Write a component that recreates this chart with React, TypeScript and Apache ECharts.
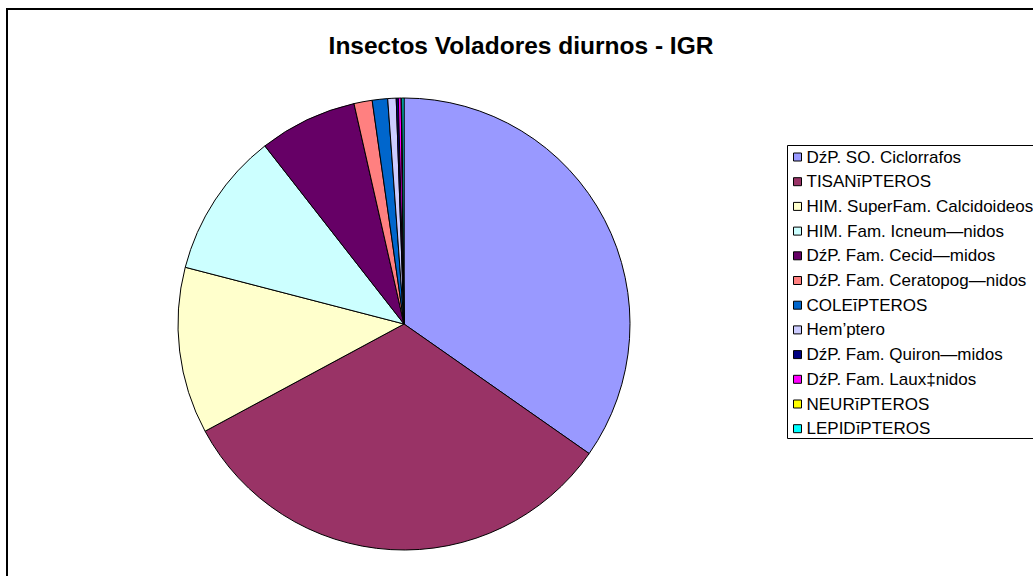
import React, { useEffect, useRef } from "react";
import * as echarts from "echarts";

const categories = [
  "DźP. SO. Ciclorrafos",
  "TISANīPTEROS",
  "HIM. SuperFam. Calcidoideos",
  "HIM. Fam. Icneum—nidos",
  "DźP. Fam. Cecid—midos",
  "DźP. Fam. Ceratopog—nidos",
  "COLEīPTEROS",
  "Hem’ptero",
  "DźP. Fam. Quiron—midos",
  "DźP. Fam. Laux‡nidos",
  "NEURīPTEROS",
  "LEPIDīPTEROS",
];
const values = [34.7, 32.4, 11.9, 10.4, 7.0, 1.3, 1.1, 0.6, 0.15, 0.2, 0.05, 0.15];
const colors = [
  "#9999FF", "#993366", "#FFFFCC", "#CCFFFF", "#660066", "#FF8080",
  "#0066CC", "#CCCCFF", "#000080", "#FF00FF", "#FFFF00", "#00FFFF",
];
const title = "Insectos Voladores diurnos - IGR";

export default function App() {
  const ref = useRef<HTMLDivElement>(null);
  useEffect(() => {
    document.body.style.margin = "0";
    const chart = echarts.init(ref.current!, null, { renderer: "svg" });
    chart.setOption({
      animation: false,
      backgroundColor: "#ffffff",
      color: colors,
      title: {
        text: title,
        left: 516,
        textAlign: "center",
        top: 28,
        textStyle: { fontFamily: "Liberation Sans, Arial", fontSize: 24.5, fontWeight: "bold", color: "#000" },
      },
      graphic: [
        {
          type: "rect",
          shape: { x: 7, y: 9, width: 1100, height: 700 },
          style: { fill: "none", stroke: "#000", lineWidth: 2 },
          z: 0,
        },
        {
          type: "rect",
          shape: { x: 787.5, y: 145.5, width: 300, height: 293 },
          style: { fill: "#fff", stroke: "#000", lineWidth: 1 },
          z: 0,
        },
      ],
      legend: {
        orient: "vertical",
        left: 793,
        top: 148.5,
        padding: 0,
        itemGap: 7.7,
        itemWidth: 8,
        itemHeight: 8,
        icon: "rect",
        itemStyle: { borderColor: "#000", borderWidth: 1 },
        textStyle: { fontFamily: "Liberation Sans, Arial", fontSize: 17, lineHeight: 17, color: "#000" },
        data: categories,
        selectedMode: false,
        z: 5,
      },
      series: [
        {
          type: "pie",
          center: [404, 324],
          radius: 226,
          startAngle: 90,
          clockwise: true,
          label: { show: false },
          labelLine: { show: false },
          emphasis: { disabled: true },
          itemStyle: { borderColor: "#000", borderWidth: 1 },
          data: categories.map((c, i) => ({ name: c, value: values[i] })),
        },
      ],
    });
    return () => chart.dispose();
  }, []);
  return <div ref={ref} style={{ position: "fixed", left: 0, top: 0, width: 1033, height: 576 }} />;
}
